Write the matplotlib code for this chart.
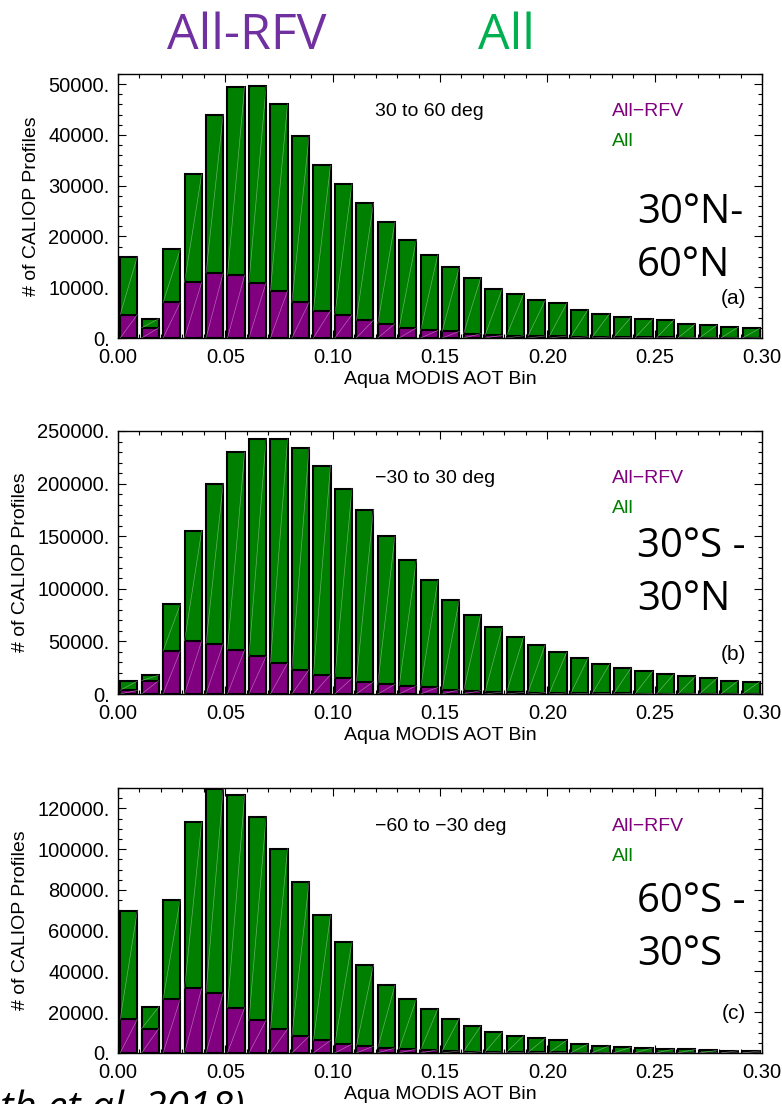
import numpy as np
import matplotlib
matplotlib.use("Agg")
import matplotlib.pyplot as plt
from matplotlib.ticker import MultipleLocator, FuncFormatter

# AOT bins (left edges), width 0.01
bin_left = np.round(np.arange(30) * 0.01, 2)
bin_width = 0.01

# Panel (a): 30 to 60 deg
all_a = [16000, 3800, 17500, 32300, 44000, 49500, 49600, 46100, 39700, 34000,
         30400, 26500, 22800, 19400, 16400, 13900, 11900, 9700, 8700, 7400,
         6800, 5600, 4800, 4100, 3750, 3600, 2800, 2550, 2150, 1900]
rfv_a = [4600, 2000, 7000, 11000, 12800, 12400, 10900, 9300, 7000, 5400,
         4600, 3500, 2800, 2000, 1500, 1300, 850, 550, 450, 400,
         380, 250, 200, 150, 120, 100, 80, 60, 50, 40]

# Panel (b): -30 to 30 deg
all_b = [12300, 18000, 85100, 155400, 200000, 229800, 242400, 242400, 233900, 217100,
         195300, 175300, 150000, 127500, 107900, 89600, 75300, 63300, 54400, 46800,
         39600, 34200, 28500, 24700, 21500, 19000, 16800, 14900, 12700, 11700]
rfv_b = [3500, 12700, 40800, 50600, 47800, 42100, 35800, 29400, 23100, 18400,
         14900, 11700, 9200, 7900, 6300, 4100, 3200, 1900, 1600, 1300,
         1000, 800, 600, 500, 400, 350, 300, 250, 200, 150]

# Panel (c): -60 to -30 deg
all_c = [69600, 22600, 75300, 113300, 129500, 126400, 115900, 100200, 83800, 67600,
         54400, 43200, 33200, 26500, 21600, 16900, 13300, 10300, 8500, 7200,
         6200, 4400, 3600, 2800, 2500, 2000, 1800, 1300, 1150, 1000]
rfv_c = [16500, 12000, 26400, 31800, 29500, 22300, 16000, 11800, 8200, 6200,
         4400, 3300, 2500, 2000, 1600, 1000, 700, 500, 400, 300,
         250, 200, 150, 120, 100, 80, 60, 50, 40, 30]

lat_titles = ["30 to 60 deg", "\u221230 to 30 deg", "\u221260 to \u221230 deg"]
region_lines = [["30\u00b0N-", "60\u00b0N"], ["30\u00b0S -", "30\u00b0N"], ["60\u00b0S -", "30\u00b0S"]]
panel_tags = ["(a)", "(b)", "(c)"]
y_max = [52000, 250000, 130000]
y_major = [10000, 50000, 20000]
y_minor = [2000, 10000, 5000]

GREEN = "#008000"
PURPLE = "#800080"
FONT = "Liberation Sans"
BIG = "Open Sans"

W, H = 782, 1104
fig = plt.figure(figsize=(W / 100, H / 100), dpi=100)

# axes boxes in pixels: (left, top, right, bottom)
boxes = [(118, 74, 762, 338), (118, 431, 762, 694), (118, 788, 762, 1053)]
title_y = [0.857, 0.821, 0.854]
all_y = [0.743, 0.706, 0.741]
region_base = [(223, 276), (557, 610), (912, 965)]

series = [(all_a, rfv_a), (all_b, rfv_b), (all_c, rfv_c)]

for k, ((l, t, r, b), (tot, rfv)) in enumerate(zip(boxes, series)):
    ax = fig.add_axes([l / W, 1 - b / H, (r - l) / W, (b - t) / H])
    tot = np.asarray(tot, float)
    rfv = np.asarray(rfv, float)
    centers = bin_left + bin_width / 2
    bw = 0.0080
    ax.bar(centers, tot, width=bw, color=GREEN, edgecolor="black", linewidth=1.5, zorder=2)
    ax.bar(centers, rfv, width=bw, color=PURPLE, edgecolor="black", linewidth=1.5, zorder=3)
    # faint diagonal inside each filled segment
    for xc, a, p in zip(centers, tot, rfv):
        x0, x1 = xc - bw / 2, xc + bw / 2
        ax.plot([x0, x1], [0, p], color="white", lw=0.5, alpha=0.4, zorder=4)
        ax.plot([x0, x1], [p, a], color="white", lw=0.5, alpha=0.4, zorder=4)

    ax.set_xlim(0, 0.30)
    ax.set_ylim(0, y_max[k])
    ax.xaxis.set_major_locator(MultipleLocator(0.05))
    ax.xaxis.set_minor_locator(MultipleLocator(0.01))
    ax.yaxis.set_major_locator(MultipleLocator(y_major[k]))
    ax.yaxis.set_minor_locator(MultipleLocator(y_minor[k]))
    ax.xaxis.set_major_formatter(FuncFormatter(lambda v, p: f"{v:.2f}"))
    ax.yaxis.set_major_formatter(FuncFormatter(lambda v, p: f"{int(round(v))}."))
    ax.tick_params(which="both", direction="in", top=True, right=True, width=0.8,
                   labelsize=14.5)
    ax.tick_params(which="major", length=6)
    ax.tick_params(which="minor", length=3)
    ax.tick_params(axis="x", pad=7)
    ax.tick_params(axis="y", pad=6)
    for lab in ax.get_xticklabels() + ax.get_yticklabels():
        lab.set_fontfamily(FONT)
    for s in ax.spines.values():
        s.set_linewidth(1.0)

    ax.set_xlabel("Aqua MODIS AOT Bin", fontsize=14, family=FONT, labelpad=3)
    ax.set_ylabel("# of CALIOP Profiles", fontsize=14, family=FONT, labelpad=6)

    ax.text(0.1197 / 0.30, title_y[k], lat_titles[k], transform=ax.transAxes,
            fontsize=14, family=FONT, va="center", ha="left")
    ax.text(0.767, title_y[k], "All\u2212RFV", transform=ax.transAxes,
            fontsize=14, family=FONT, color=PURPLE, va="center", ha="left")
    ax.text(0.767, all_y[k], "All", transform=ax.transAxes,
            fontsize=14, family=FONT, color=GREEN, va="center", ha="left")
    ax.text(0.975, 0.15, panel_tags[k], transform=ax.transAxes,
            fontsize=15, family=FONT, va="center", ha="right")

    for line, yb in zip(region_lines[k], region_base[k]):
        fig.text(637 / W, 1 - yb / H, line, fontsize=29, family=BIG,
                 va="baseline", ha="left")

# Header legend
fig.text(167 / W, 1 - 49 / H, "All-RFV", fontsize=36, family=BIG, color="#7030A0",
         va="baseline", ha="left")
fig.text(478 / W, 1 - 49 / H, "All", fontsize=36, family=BIG, color="#00B050",
         va="baseline", ha="left")

# Citation
fig.text(245 / W, 1 - 1120 / H, "(Toth et al. 2018)", fontsize=29, family=BIG,
         style="italic", va="baseline", ha="right")

fig.savefig("out.png", dpi=100)
